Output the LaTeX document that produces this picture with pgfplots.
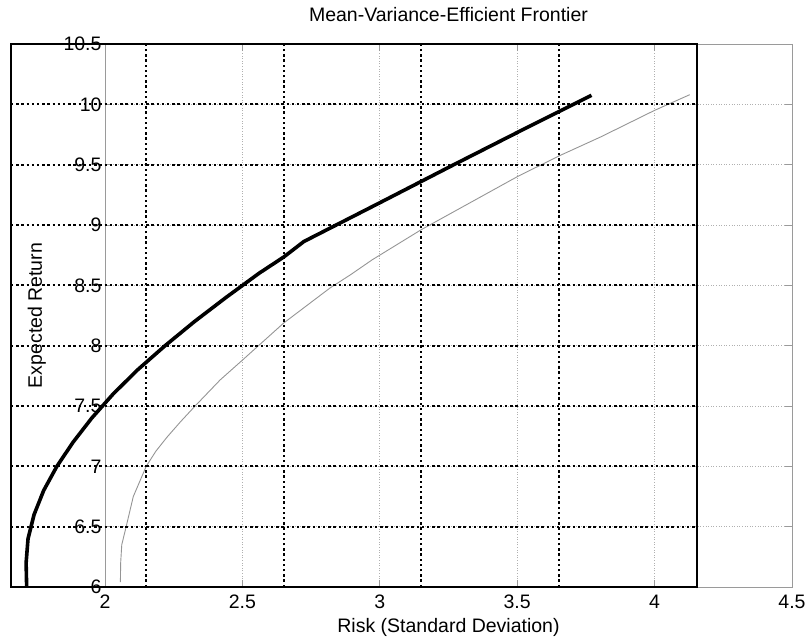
\documentclass[border=0pt]{standalone}
\usepackage{fontspec}
\setmainfont{Liberation Sans}
\usepackage{pgfplots}
\pgfplotsset{compat=1.18}
\newcommand\myf{\fontsize{19.5}{23}\selectfont}
\definecolor{boxgray}{HTML}{9A9A9A}
\definecolor{gridgray}{HTML}{B0B0B0}
\definecolor{curvegray}{HTML}{959595}
\begin{document}
\begin{tikzpicture}[x=1pt,y=1pt]
\useasboundingbox (0,0) rectangle (806,639);
% background axis
\begin{axis}[
  at={(105pt,52pt)}, anchor=south west,
  scale only axis, width=687pt, height=543pt,
  xmin=2, xmax=4.5, ymin=6, ymax=10.5,
  xtick={2,2.5,3,3.5,4,4.5},
  ytick={6,6.5,7,7.5,8,8.5,9,9.5,10,10.5},
  /pgf/number format/assume math mode=true,
  ticklabel style={font=\myf, text=black},
  xticklabel style={anchor=base, yshift=-22pt},
  yticklabel style={anchor=east},
  axis line style={boxgray, line width=0.9pt},
  tick style={boxgray, line width=0.8pt},
  tick align=inside, major tick length=7pt,
  grid=major,
  major grid style={gridgray, line width=0.8pt, dash pattern=on 1pt off 1.6pt},
  title={Mean-Variance-Efficient Frontier},
  title style={font=\myf, at={(axis description cs:0.5,1.030)}, anchor=base},
  xlabel={Risk (Standard Deviation)},
  xlabel style={font=\myf, at={(axis description cs:0.5,-0.0847)}, anchor=base},
  ylabel={Expected Return},
  ylabel style={font=\myf, at={(axis description cs:-0.0917,0.5)}, anchor=base},
]
\addplot[curvegray, line width=0.9pt, line join=round] coordinates {
(2.056,6.04) (2.057,6.20) (2.061,6.35) (2.077,6.5) (2.103,6.75) (2.150,7.0)
(2.185,7.125) (2.225,7.24) (2.275,7.37) (2.328,7.5) (2.419,7.716) (2.500,7.88)
(2.650,8.187) (2.820,8.48) (2.893,8.587) (2.972,8.711) (3.150,8.96) (3.500,9.40)
(3.650,9.57) (3.804,9.73) (4.000,9.95) (4.128,10.08)};
\end{axis}
% foreground axis
\begin{axis}[
  at={(11pt,52pt)}, anchor=south west,
  scale only axis, width=686pt, height=543pt,
  xmin=1.657, xmax=4.154, ymin=6, ymax=10.5,
  xtick={2.15,2.65,3.15,3.65},
  ytick={6,6.5,7,7.5,8,8.5,9,9.5,10,10.5},
  xticklabels={}, yticklabels={},
  major tick length=0pt,
  axis line style={black, line width=2.6pt},
  grid=major,
  major grid style={black, line width=2pt, dash pattern=on 2.4pt off 2.8pt},
]
\addplot[black, line width=3.6pt, line join=round] coordinates {
(1.714,6.0) (1.712,6.2) (1.719,6.4) (1.741,6.6) (1.776,6.8) (1.824,7.0)
(1.883,7.2) (1.951,7.4) (2.029,7.6) (2.118,7.8) (2.218,8.0) (2.325,8.2)
(2.440,8.4) (2.500,8.5) (2.560,8.6) (2.650,8.735) (2.723,8.863)
(3.000,9.185) (3.269,9.5) (3.520,9.79) (3.770,10.075)};
\end{axis}
\end{tikzpicture}
\end{document}
